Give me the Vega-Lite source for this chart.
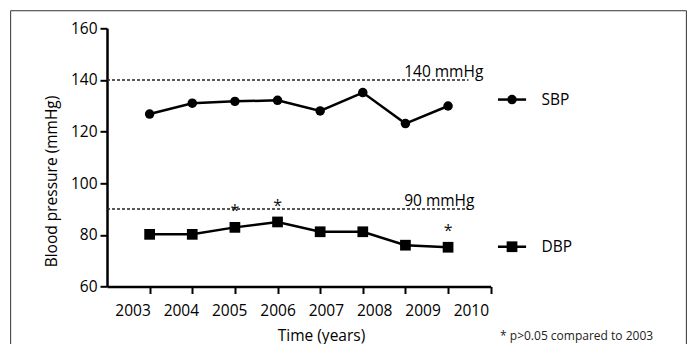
{
  "$schema": "https://vega.github.io/schema/vega-lite/v6.json",
  "width": 383.7,
  "height": 258.2,
  "autosize": {"type": "none"},
  "padding": {"left": 107, "top": 28.3, "right": 200.3, "bottom": 57.5},
  "background": "white",
  "config": {
    "view": {"stroke": null},
    "axis": {
      "grid": false,
      "domainColor": "#000",
      "domainWidth": 2.5,
      "tickColor": "#000",
      "tickWidth": 2,
      "tickSize": 7,
      "labelFont": "Open Sans",
      "labelFontSize": 15.5,
      "labelColor": "#000",
      "labelFlush": false,
      "labelOverlap": false,
      "titleFont": "Open Sans",
      "titleFontSize": 15.5,
      "titleFontWeight": "normal",
      "titleColor": "#000",
      "titleBaseline": "alphabetic",
      "titleAlign": "center"
    },
    "axisX": {"labelPadding": 10, "titleX": 214, "titleY": 53.5},
    "axisY": {"labelPadding": 3, "titleX": -50.5, "titleY": 152.7, "titleAngle": 270}
  },
  "datasets": {
    "bp": [
      {"year": 2003, "series": "SBP", "value": 126.8, "sig": false},
      {"year": 2004, "series": "SBP", "value": 131.0, "sig": false},
      {"year": 2005, "series": "SBP", "value": 131.7, "sig": false},
      {"year": 2006, "series": "SBP", "value": 132.1, "sig": false},
      {"year": 2007, "series": "SBP", "value": 128.0, "sig": false},
      {"year": 2008, "series": "SBP", "value": 135.1, "sig": false},
      {"year": 2009, "series": "SBP", "value": 123.1, "sig": false},
      {"year": 2010, "series": "SBP", "value": 129.9, "sig": false},
      {"year": 2003, "series": "DBP", "value": 80.2, "sig": false},
      {"year": 2004, "series": "DBP", "value": 80.2, "sig": false},
      {"year": 2005, "series": "DBP", "value": 82.9, "sig": true},
      {"year": 2006, "series": "DBP", "value": 85.0, "sig": true},
      {"year": 2007, "series": "DBP", "value": 81.2, "sig": false},
      {"year": 2008, "series": "DBP", "value": 81.2, "sig": false},
      {"year": 2009, "series": "DBP", "value": 76.0, "sig": false},
      {"year": 2010, "series": "DBP", "value": 75.2, "sig": true}
    ],
    "refs": [
      {"value": 140, "label": "140 mmHg"},
      {"value": 90, "label": "90 mmHg"}
    ],
    "legend": [
      {"series": "SBP", "value": 132.4},
      {"series": "DBP", "value": 75.4}
    ],
    "note": [{"text": "* p>0.05 compared to 2003"}],
    "sides": [{"side": "left", "x": 1999.74}, {"side": "right", "x": 2015.59}],
    "top": [{"side": "top"}]
  },
  "layer": [
    {
      "data": {"name": "bp"},
      "mark": {"type": "line", "color": "#000", "strokeWidth": 2.5},
      "encoding": {
        "x": {
          "field": "year",
          "type": "quantitative",
          "scale": {"domain": [2002, 2011], "nice": false, "zero": false},
          "axis": {
            "values": [2003, 2004, 2005, 2006, 2007, 2008, 2009, 2010, 2011],
            "format": "d",
            "title": "Time (years)",
            "labelExpr": "datum.value == 2011 ? '' : datum.label",
            "labelOffset": {"expr": "(datum.value - 2006) * 5.7"}
          }
        },
        "y": {
          "field": "value",
          "type": "quantitative",
          "scale": {"domain": [60, 160], "nice": false, "zero": false},
          "axis": {
            "values": [60, 80, 100, 120, 140, 160],
            "title": "Blood pressure (mmHg)"
          }
        },
        "detail": {"field": "series"}
      }
    },
    {
      "data": {"name": "sides"},
      "mark": {"type": "rule", "color": "#333", "strokeWidth": 1},
      "encoding": {
        "x": {"field": "x", "type": "quantitative"},
        "y": {"datum": 166.8, "type": "quantitative"},
        "y2": {"datum": 37.5}
      }
    },
    {
      "data": {"name": "top"},
      "mark": {"type": "rule", "color": "#333", "strokeWidth": 1},
      "encoding": {
        "x": {"datum": 1999.74, "type": "quantitative"},
        "x2": {"datum": 2015.59},
        "y": {"datum": 166.8, "type": "quantitative"}
      }
    },
    {
      "data": {"name": "refs"},
      "mark": {"type": "rule", "color": "#222", "strokeWidth": 1.5, "strokeDash": [3, 2]},
      "encoding": {
        "x": {"datum": 2002, "type": "quantitative"},
        "x2": {"datum": 2010.48},
        "y": {"field": "value", "type": "quantitative"}
      }
    },
    {
      "data": {"name": "refs"},
      "mark": {"type": "text", "align": "left", "baseline": "alphabetic", "dy": -3, "font": "Open Sans", "fontSize": 15.5, "color": "#000"},
      "encoding": {
        "x": {"datum": 2008.97, "type": "quantitative"},
        "y": {"field": "value", "type": "quantitative"},
        "text": {"field": "label"}
      }
    },
    {
      "data": {"name": "bp"},
      "mark": {"type": "point", "filled": true, "opacity": 1, "color": "#000"},
      "encoding": {
        "x": {"field": "year", "type": "quantitative"},
        "y": {"field": "value", "type": "quantitative"},
        "shape": {"field": "series", "type": "nominal", "scale": {"domain": ["SBP", "DBP"], "range": ["circle", "square"]}, "legend": null},
        "size": {"field": "series", "type": "nominal", "scale": {"domain": ["SBP", "DBP"], "range": [90, 115]}, "legend": null}
      }
    },
    {
      "data": {"name": "bp"},
      "transform": [{"filter": "datum.sig"}],
      "mark": {"type": "text", "text": "*", "font": "Open Sans", "fontSize": 16, "dy": -11, "baseline": "alphabetic", "color": "#111"},
      "encoding": {
        "x": {"field": "year", "type": "quantitative"},
        "y": {"field": "value", "type": "quantitative"}
      }
    },
    {
      "data": {"name": "legend"},
      "mark": {"type": "rule", "color": "#000", "strokeWidth": 2.5},
      "encoding": {
        "x": {"datum": 2011.17, "type": "quantitative"},
        "x2": {"datum": 2011.83},
        "y": {"field": "value", "type": "quantitative"}
      }
    },
    {
      "data": {"name": "legend"},
      "mark": {"type": "point", "filled": true, "opacity": 1, "color": "#000"},
      "encoding": {
        "x": {"datum": 2011.5, "type": "quantitative"},
        "y": {"field": "value", "type": "quantitative"},
        "shape": {"field": "series", "type": "nominal", "legend": null},
        "size": {"field": "series", "type": "nominal", "legend": null}
      }
    },
    {
      "data": {"name": "legend"},
      "mark": {"type": "text", "align": "left", "baseline": "middle", "font": "Open Sans", "fontSize": 15.5, "color": "#000"},
      "encoding": {
        "x": {"datum": 2012.19, "type": "quantitative"},
        "y": {"field": "value", "type": "quantitative"},
        "text": {"field": "series"}
      }
    },
    {
      "data": {"name": "note"},
      "mark": {"type": "text", "align": "left", "baseline": "alphabetic", "font": "Open Sans", "fontSize": 12, "color": "#222"},
      "encoding": {
        "x": {"datum": 2011.22, "type": "quantitative"},
        "y": {"datum": 39.2, "type": "quantitative"},
        "text": {"field": "text"}
      }
    }
  ]
}
